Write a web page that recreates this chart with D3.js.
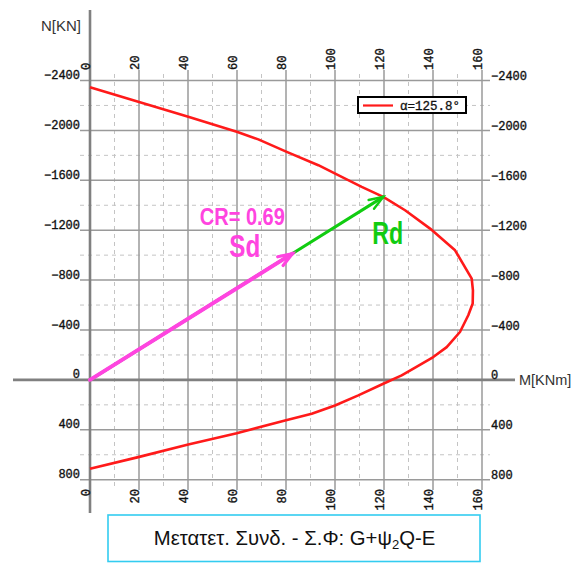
<!DOCTYPE html>
<html>
<head>
<meta charset="utf-8">
<script src="https://cdn.jsdelivr.net/npm/d3@7"></script>
<style>
  html, body { margin: 0; padding: 0; background: #fff; }
  svg { display: block; }
</style>
</head>
<body>
<svg id="chart" width="578" height="563"></svg>
<script>
// Interaction diagram M–N (moment vs axial force) at angle α = 125.8°
const curveM = [0, 19.7, 40.1, 59.9, 68.7, 80.3, 93.2, 101.3, 110.9, 119.7, 128.6, 138.8, 149.0, 155.8, 156.3, 156.2, 154.4, 151.0, 145.6, 140.1, 132.0, 127.2, 119.7, 109.5, 100.0, 90.5, 79.6, 59.9, 40.1, 19.7, 0];
const curveN = [-2345, -2230, -2109, -1989, -1928, -1828, -1721, -1641, -1547, -1467, -1360, -1213, -1039, -812, -718, -612, -518, -384, -263, -183, -90, -36, 31, 124, 205, 272, 325, 427, 518, 619, 713];

// Resistance point Rd on the curve and design action Sd (Sd = CR · Rd)
const capacityRatio = 0.69;
const rdPoint = [119.7, -1467];
const sdPoint = [82.6, -1012];

// Axis ticks
const mTicks = [0, 20, 40, 60, 80, 100, 120, 140, 160];
const mMinorTicks = [10, 30, 50, 70, 90, 110, 130, 150];
const nTicks = [-2400, -2000, -1600, -1200, -800, -400, 0, 400, 800];
const nMinorTicks = [-2200, -1800, -1400, -1000, -600, -200, 200, 600];

const legendLabel = "α=125.8°";
const mAxisTitle = "M[KNm]";
const nAxisTitle = "N[KN]";

const svg = d3.select("#chart");

const x = d3.scaleLinear().domain([0, 160]).range([90, 482]);
const y = d3.scaleLinear().domain([-2400, 800]).range([80.5, 479.7]);

const gridLeft = 80, gridRight = 490, gridTop = 70, gridBottom = 490;
const fmt = d3.format("d");
const tickFont = "'Liberation Mono', 'Courier New', monospace";
const sansFont = "'Liberation Sans', Arial, sans-serif";

// minor dashed grid
const grid = svg.append("g");
grid.selectAll("line.vmin").data(mMinorTicks).join("line")
  .attr("x1", d => x(d)).attr("x2", d => x(d))
  .attr("y1", gridTop + 4).attr("y2", gridBottom - 2)
  .attr("stroke", "#c4c4c4").attr("stroke-width", 1).attr("stroke-dasharray", "4,4");
grid.selectAll("line.hmin").data(nMinorTicks).join("line")
  .attr("x1", gridLeft).attr("x2", gridRight)
  .attr("y1", d => y(d)).attr("y2", d => y(d))
  .attr("stroke", "#c4c4c4").attr("stroke-width", 1).attr("stroke-dasharray", "4,4");

// major solid grid
grid.selectAll("line.vmaj").data(mTicks).join("line")
  .attr("x1", d => x(d)).attr("x2", d => x(d))
  .attr("y1", gridTop).attr("y2", gridBottom)
  .attr("stroke", "#9a9a9a").attr("stroke-width", 1.5);
grid.selectAll("line.hmaj").data(nTicks).join("line")
  .attr("x1", gridLeft).attr("x2", gridRight)
  .attr("y1", d => y(d)).attr("y2", d => y(d))
  .attr("stroke", "#9a9a9a").attr("stroke-width", 1.5);

// main axes
svg.append("line").attr("x1", x(0)).attr("x2", x(0)).attr("y1", 10).attr("y2", 513)
  .attr("stroke", "#808080").attr("stroke-width", 2.6);
svg.append("line").attr("x1", 13).attr("x2", 515).attr("y1", y(0)).attr("y2", y(0))
  .attr("stroke", "#808080").attr("stroke-width", 2.6);

// tick labels
const labels = svg.append("g").attr("font-family", tickFont).attr("font-size", 12)
  .attr("fill", "#111").attr("stroke", "#111").attr("stroke-width", 0.35);
labels.selectAll("text.top").data(mTicks).join("text")
  .attr("transform", d => `translate(${x(d)},${gridTop}) rotate(-90)`)
  .attr("text-anchor", "start").text(d => fmt(d));
labels.selectAll("text.bottom").data(mTicks).join("text")
  .attr("transform", d => `translate(${x(d)},${gridBottom - 1}) rotate(-90)`)
  .attr("text-anchor", "end").text(d => fmt(d));
labels.selectAll("text.left").data(nTicks).join("text")
  .attr("x", gridLeft).attr("y", d => y(d) - 1.5)
  .attr("text-anchor", "end").text(d => fmt(d));
labels.selectAll("text.right").data(nTicks).join("text")
  .attr("x", gridRight + 1).attr("y", d => y(d) - 0.5)
  .attr("text-anchor", "start").text(d => fmt(d));

// axis titles
svg.append("text").attr("x", 41).attr("y", 31).attr("font-family", sansFont)
  .attr("font-size", 15).attr("fill", "#333").text(nAxisTitle);
svg.append("text").attr("x", 519).attr("y", 385).attr("font-family", sansFont)
  .attr("font-size", 14.5).attr("fill", "#333").text(mAxisTitle);

// interaction curve
const pts = curveM.map((m, i) => [m, curveN[i]]);
svg.append("path")
  .attr("d", d3.line().x(d => x(d[0])).y(d => y(d[1]))(pts))
  .attr("fill", "none").attr("stroke", "#ff1a1a").attr("stroke-width", 2.6)
  .attr("stroke-linejoin", "round");

// arrows from origin
function arrow(target, color, width) {
  const x0 = x(0), y0 = y(0), x1 = x(target[0]), y1 = y(target[1]);
  const ang = Math.atan2(y1 - y0, x1 - x0);
  const len = 15, spread = 20 * Math.PI / 180;
  const a1 = [x1 - len * Math.cos(ang - spread), y1 - len * Math.sin(ang - spread)];
  const a2 = [x1 - len * Math.cos(ang + spread), y1 - len * Math.sin(ang + spread)];
  const g = svg.append("g").attr("stroke", color).attr("stroke-width", width)
    .attr("stroke-linecap", "round").attr("fill", "none");
  g.append("line").attr("x1", x0).attr("y1", y0).attr("x2", x1).attr("y2", y1);
  g.append("path").attr("d", `M${a1[0]},${a1[1]}L${x1},${y1}L${a2[0]},${a2[1]}`)
    .attr("stroke-width", width * 0.8).attr("stroke-linejoin", "miter");
}
arrow(rdPoint, "#11cc11", 3);
arrow(sdPoint, "#ff44e0", 4);

// annotations
const sdx = x(sdPoint[0]), sdy = y(sdPoint[1]);
const rdx = x(rdPoint[0]), rdy = y(rdPoint[1]);
svg.append("text").attr("x", sdx - 92.5).attr("y", sdy - 29)
  .attr("font-family", sansFont).attr("font-weight", "bold").attr("font-size", 23)
  .attr("fill", "#ff44e0").attr("textLength", 85).attr("lengthAdjust", "spacingAndGlyphs")
  .text("CR= " + capacityRatio.toFixed(2));
svg.append("text").attr("x", sdx - 63).attr("y", sdy + 3)
  .attr("font-family", sansFont).attr("font-weight", "bold").attr("font-size", 32)
  .attr("fill", "#ff44e0").attr("textLength", 31).attr("lengthAdjust", "spacingAndGlyphs")
  .text("Sd");
svg.append("text").attr("x", rdx - 11).attr("y", rdy + 47)
  .attr("font-family", sansFont).attr("font-weight", "bold").attr("font-size", 32)
  .attr("fill", "#11cc11").attr("textLength", 31).attr("lengthAdjust", "spacingAndGlyphs")
  .text("Rd");

// legend
const lg = svg.append("g");
lg.append("rect").attr("x", 358).attr("y", 97).attr("width", 108).attr("height", 16)
  .attr("fill", "#fff").attr("stroke", "#000").attr("stroke-width", 2);
lg.append("line").attr("x1", 363).attr("x2", 393).attr("y1", 105.5).attr("y2", 105.5)
  .attr("stroke", "#ff1a1a").attr("stroke-width", 2.2);
lg.append("text").attr("x", 400).attr("y", 110).attr("font-family", tickFont)
  .attr("font-size", 12.5).attr("fill", "#111").attr("stroke", "#111").attr("stroke-width", 0.3)
  .text(legendLabel);

// caption box
svg.append("rect").attr("x", 108).attr("y", 515).attr("width", 372).attr("height", 46.5)
  .attr("fill", "#fff").attr("stroke", "#33ccf0").attr("stroke-width", 1.6);
const cap = svg.append("text").attr("x", 294.5).attr("y", 545).attr("text-anchor", "middle")
  .attr("font-family", sansFont).attr("font-size", 20.3).attr("fill", "#111");
cap.append("tspan").text("Μετατετ. Συνδ. - Σ.Φ: G+ψ");
cap.append("tspan").attr("font-size", 13).attr("dy", 4).text("2");
cap.append("tspan").attr("dy", -4).text("Q-E");
</script>
</body>
</html>
